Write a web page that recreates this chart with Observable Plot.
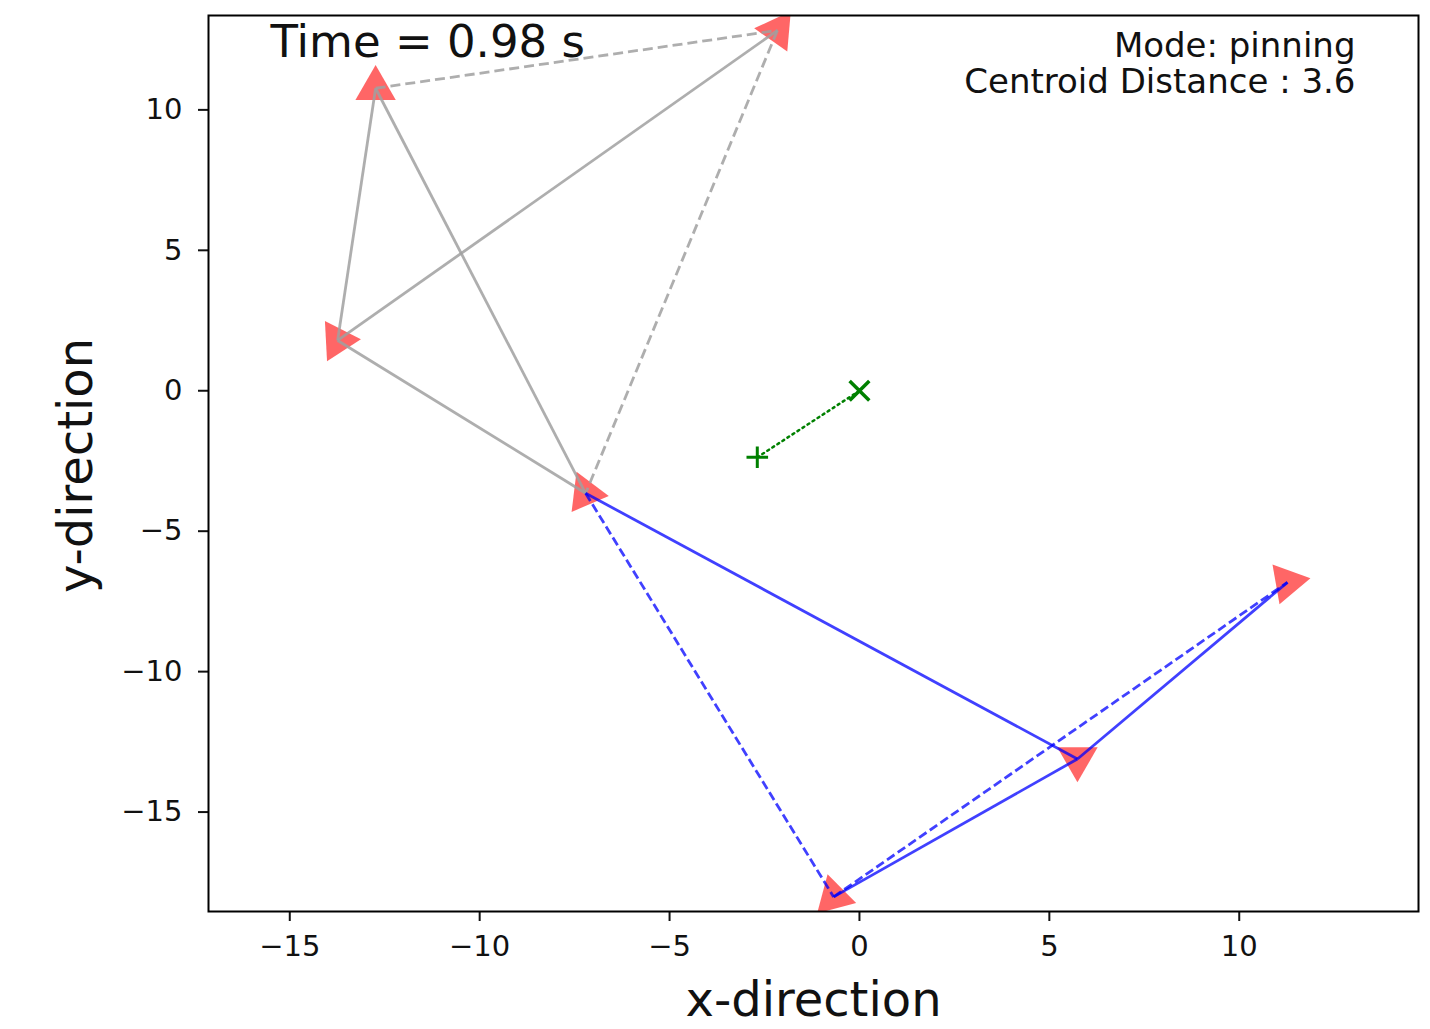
<!DOCTYPE html>
<html>
<head>
<meta charset="utf-8">
<script src="https://cdn.jsdelivr.net/npm/d3@7"></script>
<script src="https://cdn.jsdelivr.net/npm/@observablehq/plot@0.6"></script>
<style>
  html, body { margin: 0; padding: 0; background: white; }
  #chart { width: 1430px; height: 1029px; }
</style>
</head>
<body>
<div id="chart"></div>
<script>
// ---- data ----
const agentNames   = ["A", "B", "C", "D", "E", "F", "G"];
const agentX       = [-12.74, -2.16, -13.74, -7.21, 11.27, 5.74, -0.68];
const agentY       = [10.77, 12.83, 1.79, -3.65, -6.82, -13.11, -18.02];
const agentHeading = [0, 35, -33, -23, -40, 180, -15];

// graph edges (pairs of agent names)
const grayEdgesSolid  = [["A", "C"], ["A", "D"], ["C", "B"], ["C", "D"]];
const grayEdgesDashed = [["A", "B"], ["B", "D"]];
const blueEdgesSolid  = [["D", "F"], ["G", "F"], ["F", "E"]];
const blueEdgesDashed = [["D", "G"], ["G", "E"]];

const targetX = [0];
const targetY = [0];
const centroidX = [-2.69];
const centroidY = [-2.37];

const xTicks = [-15, -10, -5, 0, 5, 10];
const yTicks = [-15, -10, -5, 0, 5, 10];
const xDomain = [-17.14, 14.72];
const yDomain = [-18.54, 13.36];

const timeLabel = "Time = 0.98 s";
const modeLabel = "Mode: pinning";
const distLabel = "Centroid Distance : 3.6";
const xTitle = "x-direction";
const yTitle = "y-direction";

// ---- derived tables ----
const agents = agentNames.map((n, i) => ({name: n, x: agentX[i], y: agentY[i], heading: agentHeading[i]}));
const idx = n => agentNames.indexOf(n);
const toLinks = edges => edges.map(([a, b]) => ({x1: agentX[idx(a)], y1: agentY[idx(a)], x2: agentX[idx(b)], y2: agentY[idx(b)]}));
const centroidPath = [{x: centroidX[0], y: centroidY[0]}, {x: targetX[0], y: targetY[0]}];

const font = "DejaVu Sans";

const chart = Plot.plot({
  width: 1430,
  height: 1029,
  marginLeft: 208,
  marginRight: 12,
  marginTop: 15,
  marginBottom: 118,
  style: {fontFamily: font, fontSize: "29px", color: "#111", background: "white", overflow: "visible"},
  x: {domain: xDomain, ticks: xTicks, tickSize: 10, tickPadding: 14, label: null},
  y: {domain: yDomain, ticks: yTicks, tickSize: 10, tickPadding: 16, label: null},
  marks: [
    Plot.dot(agents, {x: "x", y: "y", symbol: "triangle", r: 15, rotate: "heading", fill: "red", fillOpacity: 0.6, stroke: "none", clip: true}),
    Plot.link(toLinks(grayEdgesSolid), {x1: "x1", y1: "y1", x2: "x2", y2: "y2", stroke: "#a0a0a0", strokeOpacity: 0.85, strokeWidth: 2.8}),
    Plot.link(toLinks(grayEdgesDashed), {x1: "x1", y1: "y1", x2: "x2", y2: "y2", stroke: "#a0a0a0", strokeOpacity: 0.85, strokeWidth: 2.8, strokeDasharray: "10,5"}),
    Plot.link(toLinks(blueEdgesSolid), {x1: "x1", y1: "y1", x2: "x2", y2: "y2", stroke: "blue", strokeOpacity: 0.75, strokeWidth: 2.8}),
    Plot.link(toLinks(blueEdgesDashed), {x1: "x1", y1: "y1", x2: "x2", y2: "y2", stroke: "blue", strokeOpacity: 0.75, strokeWidth: 2.8, strokeDasharray: "9,4"}),
    Plot.line(centroidPath, {x: "x", y: "y", stroke: "green", strokeWidth: 2.5, strokeDasharray: "2,4"}),
    Plot.dot(centroidPath.slice(0, 1), {x: "x", y: "y", symbol: "plus", r: 7, stroke: "green", strokeWidth: 3}),
    Plot.dot(centroidPath.slice(1), {x: "x", y: "y", symbol: "times", r: 9, stroke: "green", strokeWidth: 3.5}),
    Plot.frame({stroke: "black", strokeWidth: 2}),
    Plot.text([timeLabel], {frameAnchor: "top-left", text: d => d, dx: 62, dy: 10, lineAnchor: "top", textAnchor: "start", fontSize: 45, fill: "#111"}),
    Plot.text([modeLabel], {frameAnchor: "top-right", text: d => d, dx: -63, dy: 17, lineAnchor: "top", textAnchor: "end", fontSize: 34, fill: "#111"}),
    Plot.text([distLabel], {frameAnchor: "top-right", text: d => d, dx: -63, dy: 53, lineAnchor: "top", textAnchor: "end", fontSize: 34, fill: "#111"}),
    Plot.text([xTitle], {frameAnchor: "bottom", text: d => d, dy: 104, textAnchor: "middle", fontSize: 48, fill: "#111"}),
    Plot.text([yTitle], {frameAnchor: "left", text: d => d, dx: -132, dy: 2, rotate: -90, textAnchor: "middle", fontSize: 48, fill: "#111"})
  ]
});

d3.select(chart).selectAll("[aria-label='x-axis tick'] path, [aria-label='y-axis tick'] path, g[aria-label='x-axis'] path, g[aria-label='y-axis'] path")
  .attr("stroke-width", 2);
document.getElementById("chart").appendChild(chart);
</script>
</body>
</html>
